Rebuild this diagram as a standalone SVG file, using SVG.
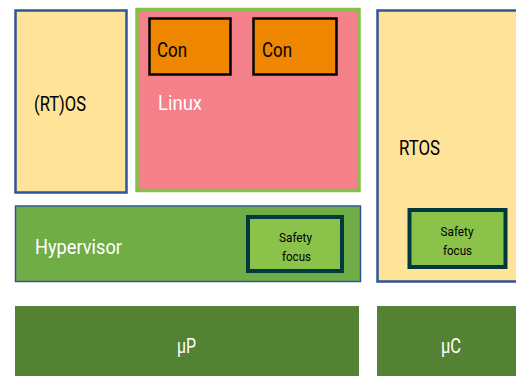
<svg xmlns="http://www.w3.org/2000/svg" width="516" height="376" viewBox="0 0 516 376">
<style>
text{font-family:Roboto,"Liberation Sans",sans-serif;}
.os{fill:#FFE399;stroke:#2F5597;stroke-width:2.5;}
.con{fill:#EE8600;stroke:#000;stroke-width:2.5;}
.sf{fill:#8BC34A;stroke:#003A3F;stroke-width:4;}
.hw{fill:#548235;}
.dk{fill:#000;font-size:21px;}
.wt{fill:#fff;font-size:21px;}
.sm{fill:#000;font-size:13.5px;text-anchor:middle;}
</style>
<rect width="516" height="376" fill="#fff"/>
<g id="rtos-left">
<rect class="os" x="15.5" y="10.5" width="111" height="182"/>
<text class="dk" x="34" y="111" textLength="52" lengthAdjust="spacingAndGlyphs">(RT)OS</text>
</g>
<g id="linux">
<rect x="137" y="9.5" width="222" height="181" fill="#F4808A" stroke="#86C048" stroke-width="3.5"/>
<text class="wt" x="158" y="110" textLength="44" lengthAdjust="spacingAndGlyphs">Linux</text>
</g>
<g id="con1">
<rect class="con" x="149.5" y="18.5" width="81" height="56"/>
<text class="dk" x="157" y="57" textLength="30" lengthAdjust="spacingAndGlyphs">Con</text>
</g>
<g id="con2">
<rect class="con" x="253.5" y="18.5" width="83" height="56"/>
<text class="dk" x="262" y="57" textLength="30" lengthAdjust="spacingAndGlyphs">Con</text>
</g>
<g id="rtos-right">
<rect class="os" x="377.5" y="10.5" width="145" height="271"/>
<text class="dk" x="399" y="155" textLength="41" lengthAdjust="spacingAndGlyphs">RTOS</text>
</g>
<g id="hypervisor">
<rect x="15.5" y="206" width="345" height="75.5" fill="#70AD47" stroke="#2F5597" stroke-width="1.5"/>
<text class="wt" x="35" y="254" textLength="87" lengthAdjust="spacingAndGlyphs">Hypervisor</text>
</g>
<g id="safety1">
<rect class="sf" x="248" y="217" width="94" height="54"/>
<text class="sm" x="295.5" y="242" textLength="33" lengthAdjust="spacingAndGlyphs">Safety</text>
<text class="sm" x="296.5" y="261" textLength="29" lengthAdjust="spacingAndGlyphs">focus</text>
</g>
<g id="safety2">
<rect class="sf" x="409.5" y="210" width="96" height="57"/>
<text class="sm" x="457" y="236" textLength="33" lengthAdjust="spacingAndGlyphs">Safety</text>
<text class="sm" x="457.5" y="255" textLength="29" lengthAdjust="spacingAndGlyphs">focus</text>
</g>
<g id="up">
<rect class="hw" x="15" y="306" width="344" height="70"/>
<text class="wt" x="186.5" y="353" text-anchor="middle" textLength="19" lengthAdjust="spacingAndGlyphs">µP</text>
</g>
<g id="uc">
<rect class="hw" x="377" y="306" width="139" height="70"/>
<text class="wt" x="451" y="353" text-anchor="middle" textLength="20" lengthAdjust="spacingAndGlyphs">µC</text>
</g>
<g id="connectors"></g>
</svg>
